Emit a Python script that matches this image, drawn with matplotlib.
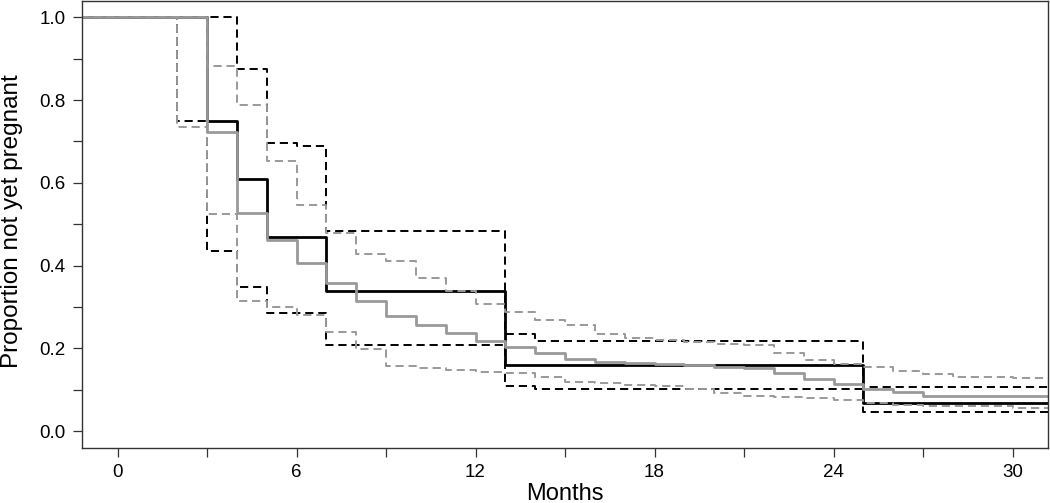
import matplotlib
matplotlib.use("Agg")
import matplotlib.pyplot as plt
from matplotlib.ticker import FixedLocator

plt.rcParams['font.family'] = ['Liberation Sans', 'DejaVu Sans']

# ---- data (months, proportion not yet pregnant) ----
black_t = [0, 3, 4, 5, 7, 13, 25]
black_v = [1.0, 0.750, 0.609, 0.470, 0.338, 0.160, 0.067]

black_up_t = [0, 4, 5, 6, 7, 13, 14, 25]
black_up_v = [1.0, 0.876, 0.697, 0.689, 0.483, 0.234, 0.218, 0.106]

black_lo_t = [0, 2, 3, 4, 5, 7, 13, 14, 25]
black_lo_v = [1.0, 0.750, 0.435, 0.349, 0.286, 0.208, 0.108, 0.103, 0.046]

gray_t = [0, 3, 4, 5, 6, 7, 8, 9, 10, 11, 12, 13, 14, 15, 16, 17, 18, 19, 20,
          21, 22, 23, 24, 25, 26, 27]
gray_v = [1.0, 0.723, 0.527, 0.463, 0.4065, 0.357, 0.314, 0.277, 0.256, 0.236,
          0.218, 0.2035, 0.188, 0.1755, 0.168, 0.164, 0.162, 0.160, 0.1555,
          0.152, 0.140, 0.126, 0.114, 0.102, 0.094, 0.0857]

gray_up_t = [0, 3, 4, 5, 6, 7, 8, 9, 10, 11, 12, 13, 14, 15, 16, 17, 18, 19,
             20, 21, 22, 23, 24, 25, 26, 27, 28, 30]
gray_up_v = [1.0, 0.882, 0.787, 0.653, 0.547, 0.479, 0.429, 0.412, 0.369,
             0.338, 0.308, 0.288, 0.2685, 0.256, 0.234, 0.226, 0.220, 0.2155,
             0.2116, 0.2076, 0.189, 0.1715, 0.162, 0.154, 0.146, 0.138, 0.132,
             0.129]

gray_lo_t = [0, 2, 3, 4, 5, 6, 7, 8, 9, 10, 11, 12, 13, 14, 15, 16, 17, 18,
             19, 20, 21, 22, 23, 24, 25, 26, 27, 28, 30]
gray_lo_v = [1.0, 0.734, 0.5245, 0.314, 0.3007, 0.2805, 0.2396, 0.198, 0.158,
             0.152, 0.1475, 0.144, 0.1395, 0.130, 0.118, 0.1155, 0.112, 0.108,
             0.1018, 0.0914, 0.0857, 0.0818, 0.079, 0.076, 0.068, 0.063,
             0.0616, 0.060, 0.055]

x_major = [0, 6, 12, 18, 24, 30]
x_minor = [3, 9, 15, 21, 27]
y_major = [0.0, 0.2, 0.4, 0.6, 0.8, 1.0]
y_minor = [0.1, 0.3, 0.5, 0.7, 0.9]

START, END = -3, 33  # lines run past both edges and are clipped

fig = plt.figure(figsize=(10.5, 5.03), dpi=100)
ax = fig.add_axes([81.7 / 1050, 1 - 447.7 / 503, (1048.3 - 81.7) / 1050, 447.0 / 503])

GRAY = '#999999'


def stepline(t, v, **kw):
    ax.step([START] + list(t) + [END], [v[0]] + list(v) + [v[-1]],
            where='post', **kw)


dash = (4.2, 2.5)
stepline(black_up_t, black_up_v, color='black', lw=1.4, dashes=dash)
stepline(black_lo_t, black_lo_v, color='black', lw=1.4, dashes=dash)
stepline(black_t, black_v, color='black', lw=2.0)
stepline(gray_up_t, gray_up_v, color=GRAY, lw=1.4, dashes=dash)
stepline(gray_lo_t, gray_lo_v, color=GRAY, lw=1.4, dashes=dash)
stepline(gray_t, gray_v, color=GRAY, lw=2.0)

ax.set_xlim(-1.2, 31.2)
ax.set_ylim(-0.04, 1.04)

ax.xaxis.set_major_locator(FixedLocator(x_major))
ax.xaxis.set_minor_locator(FixedLocator(x_minor))
ax.yaxis.set_major_locator(FixedLocator(y_major))
ax.yaxis.set_minor_locator(FixedLocator(y_minor))
ax.set_xticklabels([str(v) for v in x_major])
ax.set_yticklabels([f"{v:.1f}" for v in y_major])

for which in ('major', 'minor'):
    ax.tick_params(axis='both', which=which, direction='out', length=6.5,
                   width=0.9, color='#333333', labelsize=13.5, pad=5)

for s in ax.spines.values():
    s.set_color('#333333')
    s.set_linewidth(1.0)

fig.text(565 / 1050, 1 - 494 / 503, 'Months', ha='center', va='center', fontsize=17)
fig.text(12 / 1050, 1 - 221 / 503, 'Proportion not yet pregnant', rotation=90,
         ha='center', va='center', fontsize=17.5)

fig.savefig('out.png', dpi=100)
